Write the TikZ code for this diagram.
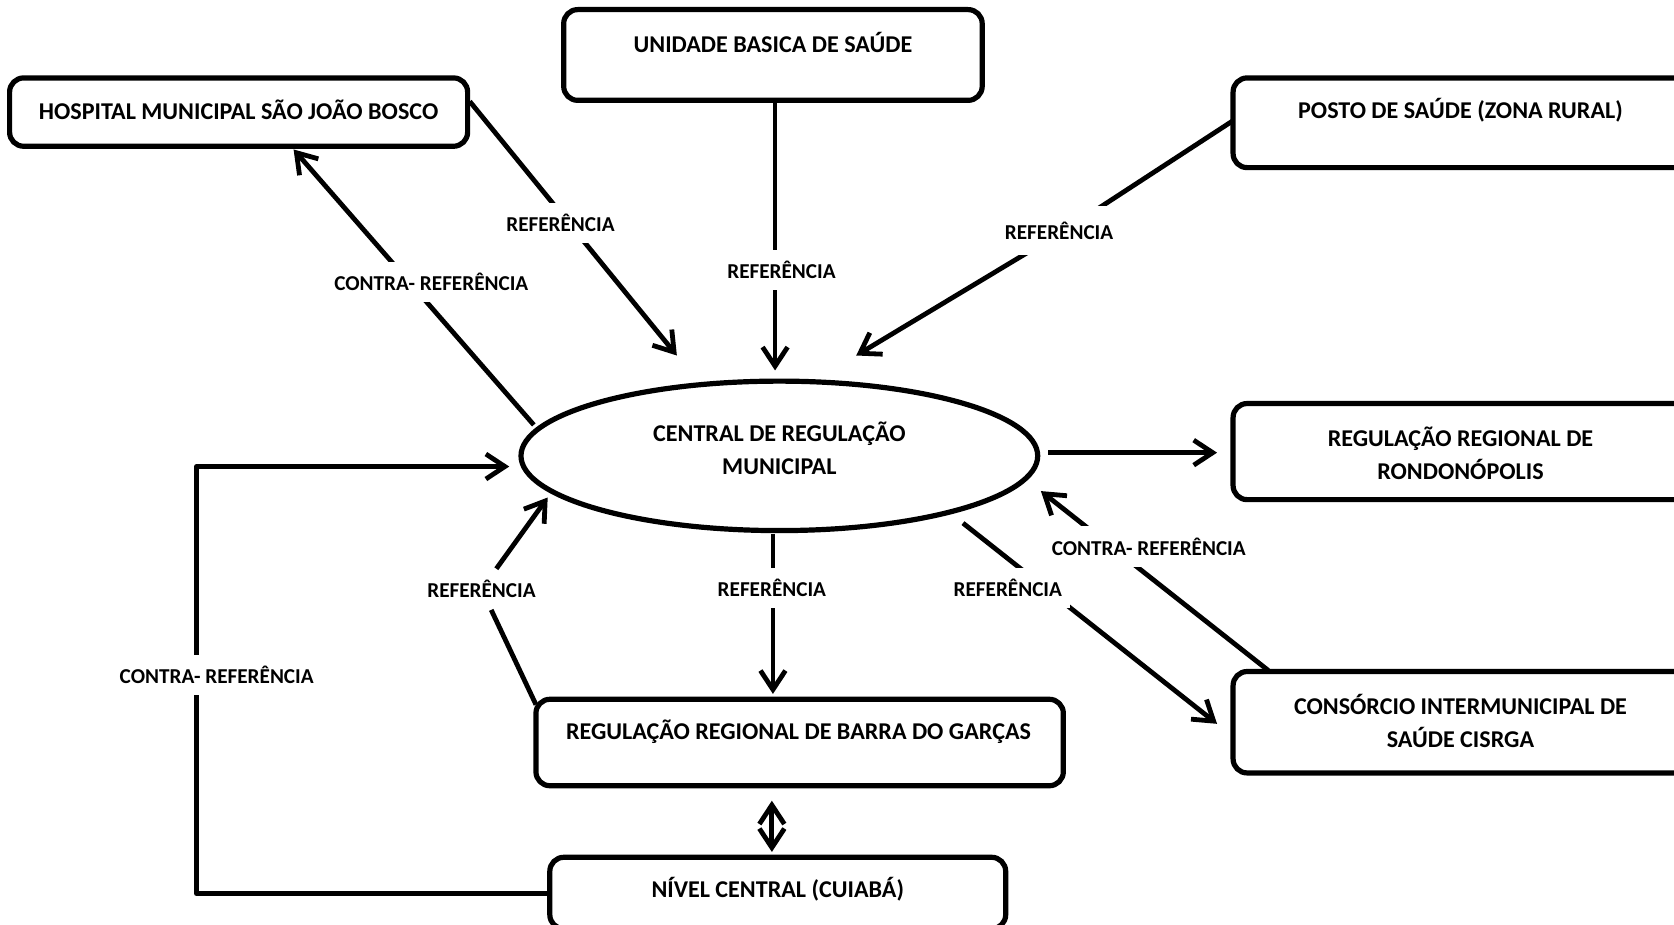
\documentclass[tikz,border=0pt]{standalone}
\usepackage{fontspec}
\setmainfont{Carlito}
\usetikzlibrary{arrows.meta,shapes.geometric}
\def\pxu{0.5338}
\begin{document}
\begin{tikzpicture}[x=0.5338pt, y=-0.5338pt, line join=round,
  box/.style n args={2}{draw, line width=2.6pt, rounded corners=7pt, inner sep=0pt,
    minimum width={#1*\pxu pt}, minimum height={#2*\pxu pt}},
  txt/.style={font=\fontsize{12.05}{16.8}\selectfont\bfseries, align=center, inner sep=0pt},
  lbl/.style={font=\fontsize{10.6}{12}\selectfont\bfseries, inner xsep=4pt, inner ysep=5.7pt, fill=white},
  ln/.style={line width=2.4pt},
  arr/.style={ln, -{Straight Barb[length=9.5pt,width=12.5pt]}},
  darr/.style={ln, {Straight Barb[length=9.5pt,width=12.5pt]}-{Straight Barb[length=9.5pt,width=12.5pt]}}]
\clip (0,0) rectangle (1568,866.4);
\fill[white] (0,0) rectangle (1568,866.4);

% boxes
\node[box={392}{85}] (ubs) at (724,51.5) {};
\node[txt] (ubst) at (724,40) {UNIDADE BASICA DE SAÚDE};
\node[box={429}{64}] (hosp) at (223.5,105) {};
\node[txt] (hospt) at (223.5,103) {HOSPITAL MUNICIPAL SÃO JOÃO BOSCO};
\node[box={465}{84}] (posto) at (1387.5,115) {};
\node[txt] (postot) at (1368,103) {POSTO DE SAÚDE (ZONA RURAL)};
\node[box={465}{90}] (rond) at (1387.5,423) {};
\node[txt] (rondt) at (1368,424.5) {REGULAÇÃO REGIONAL DE\\RONDONÓPOLIS};
\node[box={465}{95}] (cons) at (1387.5,676.5) {};
\node[txt] (const) at (1368,675.5) {CONSÓRCIO INTERMUNICIPAL DE\\SAÚDE CISRGA};
\node[box={494}{81}] (barra) at (749,695.5) {};
\node[txt] (barrat) at (748,685) {REGULAÇÃO REGIONAL DE BARRA DO GARÇAS};
\node[box={427}{67}] (nivel) at (728.5,836.5) {};
\node[txt] (nivelt) at (728.5,833) {NÍVEL CENTRAL (CUIABÁ)};

% ellipse
\node[draw, ellipse, line width=2.6pt, inner sep=0pt,
  minimum width={484*\pxu pt}, minimum height={140*\pxu pt}] (crm) at (730,427) {};
\node[txt] (crmt) at (730,420) {CENTRAL DE REGULAÇÃO\\MUNICIPAL};

% free ends
\coordinate (h1s) at (440,95);
\coordinate (h1e) at (634,333);
\coordinate (h2s) at (500,398);
\coordinate (h2e) at (275,140);
\coordinate (u1s) at (726,94);
\coordinate (u1e) at (726,347);
\coordinate (p1s) at (1155,113);
\coordinate (p1m) at (1000,214);
\coordinate (p1e) at (802,333);
\coordinate (r1s) at (982,424);
\coordinate (r1e) at (1140,424);
\coordinate (c1s) at (1188,628);
\coordinate (c1e) at (975,460);
\coordinate (c2s) at (902,490);
\coordinate (c2e) at (1140,678);
\coordinate (b1s) at (724,500);
\coordinate (b1e) at (724,650);
\coordinate (b2s) at (502,660);
\coordinate (b2e) at (513,466);
\coordinate (n1s) at (723,750);
\coordinate (n1e) at (723,798);
\coordinate (lpc1) at (184,837);
\coordinate (lpc2) at (184,437);
\coordinate (lpe) at (477,437);

% bent connector through its label
\node[lbl, fill=none] (l8) at (451,552) {REFERÊNCIA};
\draw[ln] (b2s) -- (l8); \draw[arr] (l8) -- (b2e);

% straight connectors (labels drawn on top)
\draw[arr] (h1s) -- (h1e);
\draw[arr] (h2s) -- (h2e);
\draw[arr] (u1s) -- (u1e);
\draw[arr] (p1s) -- (p1m) -- (p1e);
\draw[arr] (r1s) -- (r1e);
\draw[arr] (c1s) -- (c1e);
\draw[arr] (c2s) -- (c2e);
\draw[arr] (b1s) -- (b1e);
\draw[darr] (n1s) -- (n1e);
\draw[arr] (nivel.west |- lpc1) -- (lpc1) -- (lpc2) -- (lpe);

% labels
\node[lbl] (l1) at (525,209) {REFERÊNCIA};
\node[lbl] (l2) at (404,264) {CONTRA- REFERÊNCIA};
\node[lbl] (l3) at (732,253) {REFERÊNCIA};
\node[lbl, inner ysep=8pt] (l4) at (992,216) {REFERÊNCIA};
\node[lbl] (l5) at (1076,512) {CONTRA- REFERÊNCIA};
\node[lbl] (l6) at (944,551) {REFERÊNCIA};
\node[lbl] (l7) at (723,551) {REFERÊNCIA};
\node[lbl] (l9) at (203,632) {CONTRA- REFERÊNCIA};
\end{tikzpicture}
\end{document}
